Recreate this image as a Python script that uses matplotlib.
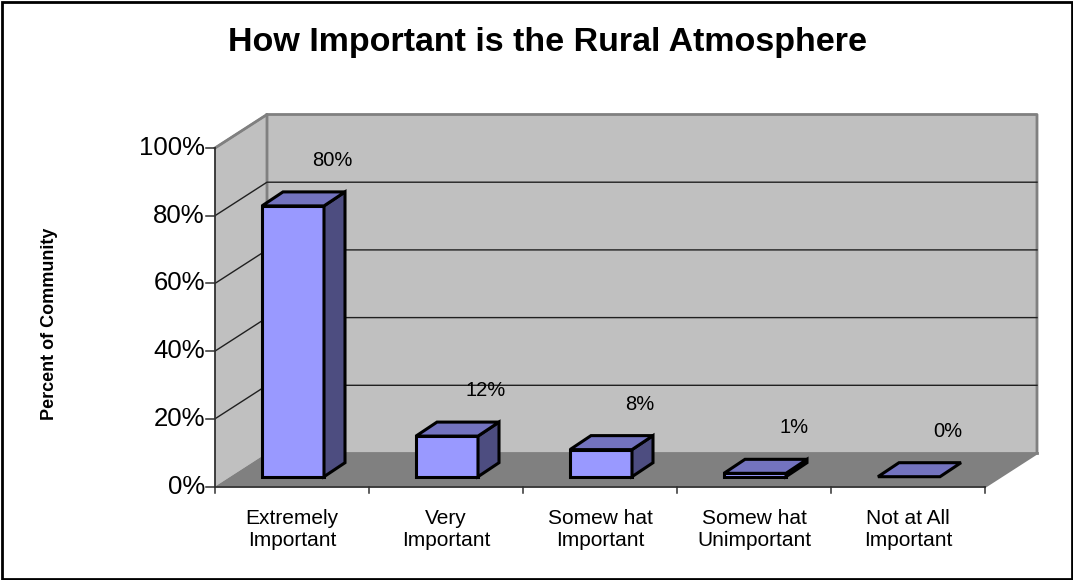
import matplotlib
matplotlib.use('Agg')
import matplotlib.pyplot as plt
from matplotlib.patches import Polygon, Rectangle

# values
categories = ['Extremely\nImportant', 'Very\nImportant', 'Somew hat\nImportant',
              'Somew hat\nUnimportant', 'Not at All\nImportant']
values = [80, 12, 8, 1, 0]
value_labels = ['80%', '12%', '8%', '1%', '0%']
y_ticks = [0, 20, 40, 60, 80, 100]

W, H = 1073, 580
plt.rcParams['font.family'] = ['Liberation Sans', 'DejaVu Sans']

fig = plt.figure(figsize=(W / 100, H / 100), dpi=100)

# outer border of the chart
fig.add_artist(Rectangle((1.5 / W, 1.5 / H), (W - 3) / W, (H - 3) / H, transform=fig.transFigure,
                         fill=False, edgecolor='black', linewidth=2))

# axes runs from the front corner of the 3d box
left, right, bottom, top = 215, 985, 486.5, 148
ax = fig.add_axes([left / W, 1 - bottom / H, (right - left) / W, (bottom - top) / H])
ax.set_xlim(0, 5)
ax.set_ylim(0, 100)
ax.axis('off')

# depth of the box and of the bars, in data units
px_x = 5 / (right - left)
px_y = 100 / (bottom - top)
box_dx, box_dy = 52 * px_x, 33.5 * px_y
bar_dx, bar_dy = 21 * px_x, 14 * px_y
front_dx, front_dy = 15 * px_x, 9.8 * px_y
bar_left = 47 * px_x
bar_w = 62 * px_x


def poly(points, face, edge='none', lw=0, z=1):
    ax.add_patch(Polygon(points, closed=True, facecolor=face, edgecolor=edge, linewidth=lw,
                         zorder=z, clip_on=False, joinstyle='miter'))


# walls and floor
poly([(0, 0), (box_dx, box_dy), (box_dx, 100 + box_dy), (0, 100)], '#c0c0c0', z=1)
poly([(box_dx, box_dy), (5 + box_dx, box_dy), (5 + box_dx, 100 + box_dy), (box_dx, 100 + box_dy)], '#c0c0c0', z=1)
poly([(0, 0), (5, 0), (5 + box_dx, box_dy), (box_dx, box_dy)], '#808080', z=2)
ax.plot([0, box_dx, box_dx], [100, 100 + box_dy, box_dy], color='#808080', lw=2, zorder=3, clip_on=False)
ax.plot([box_dx, 5 + box_dx, 5 + box_dx, 5], [100 + box_dy, 100 + box_dy, box_dy, 0], color='#808080', lw=2,
        zorder=3, clip_on=False)
ax.plot([box_dx, 5 + box_dx], [box_dy, box_dy], color='#808080', lw=2, zorder=3, clip_on=False)

# gridlines on both walls
for t in y_ticks[1:-1]:
    ax.plot([0, box_dx, 5 + box_dx], [t, t + box_dy, t + box_dy], color='#202020', lw=1, zorder=3, clip_on=False)
ax.plot([0, box_dx], [100, 100 + box_dy], color='#808080', lw=1.5, zorder=3, clip_on=False)

# axes lines and ticks
tick_x = 10 * px_x
tick_y = 6 * px_y
ax.plot([0, 0], [0, 100], color='#303030', lw=1.3, zorder=4, clip_on=False)
ax.plot([0, 5], [0, 0], color='#303030', lw=1.3, zorder=4, clip_on=False)
for t in y_ticks:
    ax.plot([-tick_x * 0.9, 0], [t, t], color='#303030', lw=1.1, zorder=4, clip_on=False)
    ax.text(-tick_x * 1.0, t, f'{t}%', ha='right', va='center', fontsize=18.5, color='black')
for i in range(6):
    ax.plot([i, i], [0, -tick_y], color='#303030', lw=1.1, zorder=4, clip_on=False)

# bars
for i, v in enumerate(values):
    x0 = i + bar_left + front_dx - front_dx
    x1 = x0 + bar_w
    y0 = front_dy
    y1 = front_dy + v
    z = 5 + i
    if v > 0:
        poly([(x0, y0), (x1, y0), (x1, y1), (x0, y1)], '#9999ff', 'black', 2.2, z)
        poly([(x1, y0), (x1 + bar_dx, y0 + bar_dy), (x1 + bar_dx, y1 + bar_dy), (x1, y1)], '#4d4d80', 'black', 2.2, z)
    poly([(x0, y1), (x1, y1), (x1 + bar_dx, y1 + bar_dy), (x0 + bar_dx, y1 + bar_dy)], '#7373bf', 'black', 2.2, z)
    ax.text(i + 0.5 + 40 * px_x, v + 13.5, value_labels[i], ha='center', va='bottom', fontsize=14.5, color='black', zorder=20)

for i, c in enumerate(categories):
    ax.text(i + 0.5, -6.5, c, ha='center', va='top', fontsize=15, color='black', linespacing=1.2)

ax.text(-165 * px_x, 50 - 2, 'Percent of Community', rotation=90, ha='center', va='center',
        fontsize=13, fontweight='bold', color='black')

fig.text(548 / W, 1 - 43 / H, 'How Important is the Rural Atmosphere', ha='center', va='center',
         fontsize=24.5, fontweight='bold', color='black')

fig.savefig('out.png', dpi=100)
